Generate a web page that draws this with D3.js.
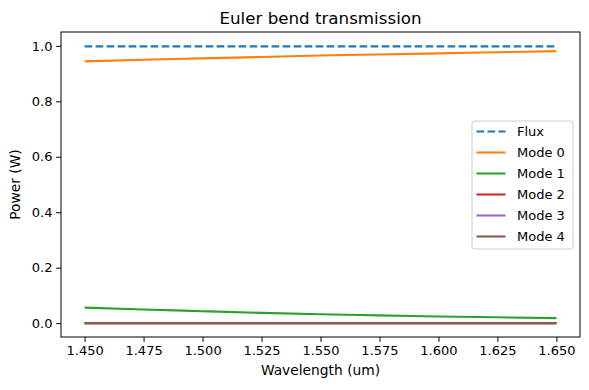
<!DOCTYPE html>
<html>
<head>
<meta charset="utf-8">
<script src="https://cdn.jsdelivr.net/npm/d3@7"></script>
<style>
  body { margin: 0; background: #fff; }
  text { font-family: "DejaVu Sans", sans-serif; }
</style>
</head>
<body>
<svg id="chart" width="589" height="390"></svg>
<script>
// wavelengths (um)
var wavelengths = [1.45, 1.475, 1.5, 1.525, 1.55, 1.575, 1.6, 1.625, 1.65];
// series values
var flux  = [0.998, 0.998, 0.998, 0.998, 0.998, 0.998, 0.998, 0.998, 0.998];
var mode0 = [0.944, 0.950, 0.955, 0.960, 0.965, 0.969, 0.973, 0.977, 0.981];
var mode1 = [0.056, 0.049, 0.043, 0.037, 0.032, 0.028, 0.024, 0.021, 0.018];
var mode2 = [0.000, 0.000, 0.000, 0.000, 0.000, 0.000, 0.000, 0.000, 0.000];
var mode3 = [0.000, 0.000, 0.000, 0.000, 0.000, 0.000, 0.000, 0.000, 0.000];
var mode4 = [0.000, 0.000, 0.000, 0.000, 0.000, 0.000, 0.000, 0.000, 0.000];
var seriesNames = ["Flux", "Mode 0", "Mode 1", "Mode 2", "Mode 3", "Mode 4"];
var xTicks = [1.45, 1.475, 1.5, 1.525, 1.55, 1.575, 1.6, 1.625, 1.65];
var yTicks = [0.0, 0.2, 0.4, 0.6, 0.8, 1.0];

var colors = ["#1f77b4", "#ff7f0e", "#2ca02c", "#d62728", "#9467bd", "#8c564b"];
var allSeries = [flux, mode0, mode1, mode2, mode3, mode4];

// plot area (window.top is reserved, so use other names)
var plotL = 61, plotR = 580, plotT = 32, plotB = 337;
var svg = d3.select("#chart");

var x = d3.scaleLinear().domain([1.44, 1.66]).range([plotL, plotR]);
var y = d3.scaleLinear().domain([-0.05, 1.05]).range([plotB, plotT]);

// title
svg.append("text")
    .attr("x", (plotL + plotR) / 2).attr("y", 24)
    .attr("text-anchor", "middle")
    .attr("font-size", "16.7px")
    .text("Euler bend transmission");

// lines
var line = d3.line()
    .x(function(d, i) { return x(wavelengths[i]); })
    .y(function(d) { return y(d); })
    .curve(d3.curveMonotoneX);

allSeries.forEach(function(s, k) {
    var p = svg.append("path")
        .datum(s)
        .attr("d", line)
        .attr("fill", "none")
        .attr("stroke", colors[k])
        .attr("stroke-width", 2.1);
    if (k === 0) p.attr("stroke-dasharray", "7.7,3.3");
});

// axes
var xAxis = svg.append("g")
    .attr("transform", "translate(0," + plotB + ")")
    .call(d3.axisBottom(x).tickValues(xTicks).tickFormat(d3.format(".3f")).tickSize(4.9).tickSizeOuter(0));
var yAxis = svg.append("g")
    .attr("transform", "translate(" + plotL + ",0)")
    .call(d3.axisLeft(y).tickValues(yTicks).tickFormat(d3.format(".1f")).tickSize(4.9).tickSizeOuter(0));

[xAxis, yAxis].forEach(function(a) {
    a.select(".domain").remove();
    a.selectAll("line").attr("stroke", "#000").attr("stroke-width", 1);
    a.selectAll("text").attr("font-size", "13px").attr("fill", "#000")
        .style("font-family", "DejaVu Sans, sans-serif");
});
xAxis.selectAll("text").attr("dy", "0.71em").attr("y", 8.5);
yAxis.selectAll("text").attr("x", -8.5);

// frame
svg.append("rect")
    .attr("x", plotL).attr("y", plotT)
    .attr("width", plotR - plotL).attr("height", plotB - plotT)
    .attr("fill", "none").attr("stroke", "#000").attr("stroke-width", 1);

// axis labels
svg.append("text")
    .attr("x", (plotL + plotR) / 2).attr("y", 374.5)
    .attr("text-anchor", "middle")
    .attr("font-size", "13.8px")
    .text("Wavelength (um)");
svg.append("text")
    .attr("transform", "translate(20," + (plotT + plotB) / 2 + ") rotate(-90)")
    .attr("text-anchor", "middle")
    .attr("font-size", "13.8px")
    .text("Power (W)");

// legend
var lg = svg.append("g").attr("transform", "translate(472,121)");
lg.append("rect")
    .attr("width", 101).attr("height", 128)
    .attr("rx", 2.5)
    .attr("fill", "#fff").attr("fill-opacity", 0.8)
    .attr("stroke", "#ccc").attr("stroke-width", 1);
seriesNames.forEach(function(name, k) {
    var yy = 10.5 + k * 21;
    var l = lg.append("line")
        .attr("x1", 4.5).attr("x2", 33.5)
        .attr("y1", yy).attr("y2", yy)
        .attr("stroke", colors[k]).attr("stroke-width", 2.1);
    if (k === 0) l.attr("stroke-dasharray", "7.7,3.3");
    lg.append("text")
        .attr("x", 45).attr("y", yy + 4.5)
        .attr("font-size", "13px")
        .text(name);
});
</script>
</body>
</html>
